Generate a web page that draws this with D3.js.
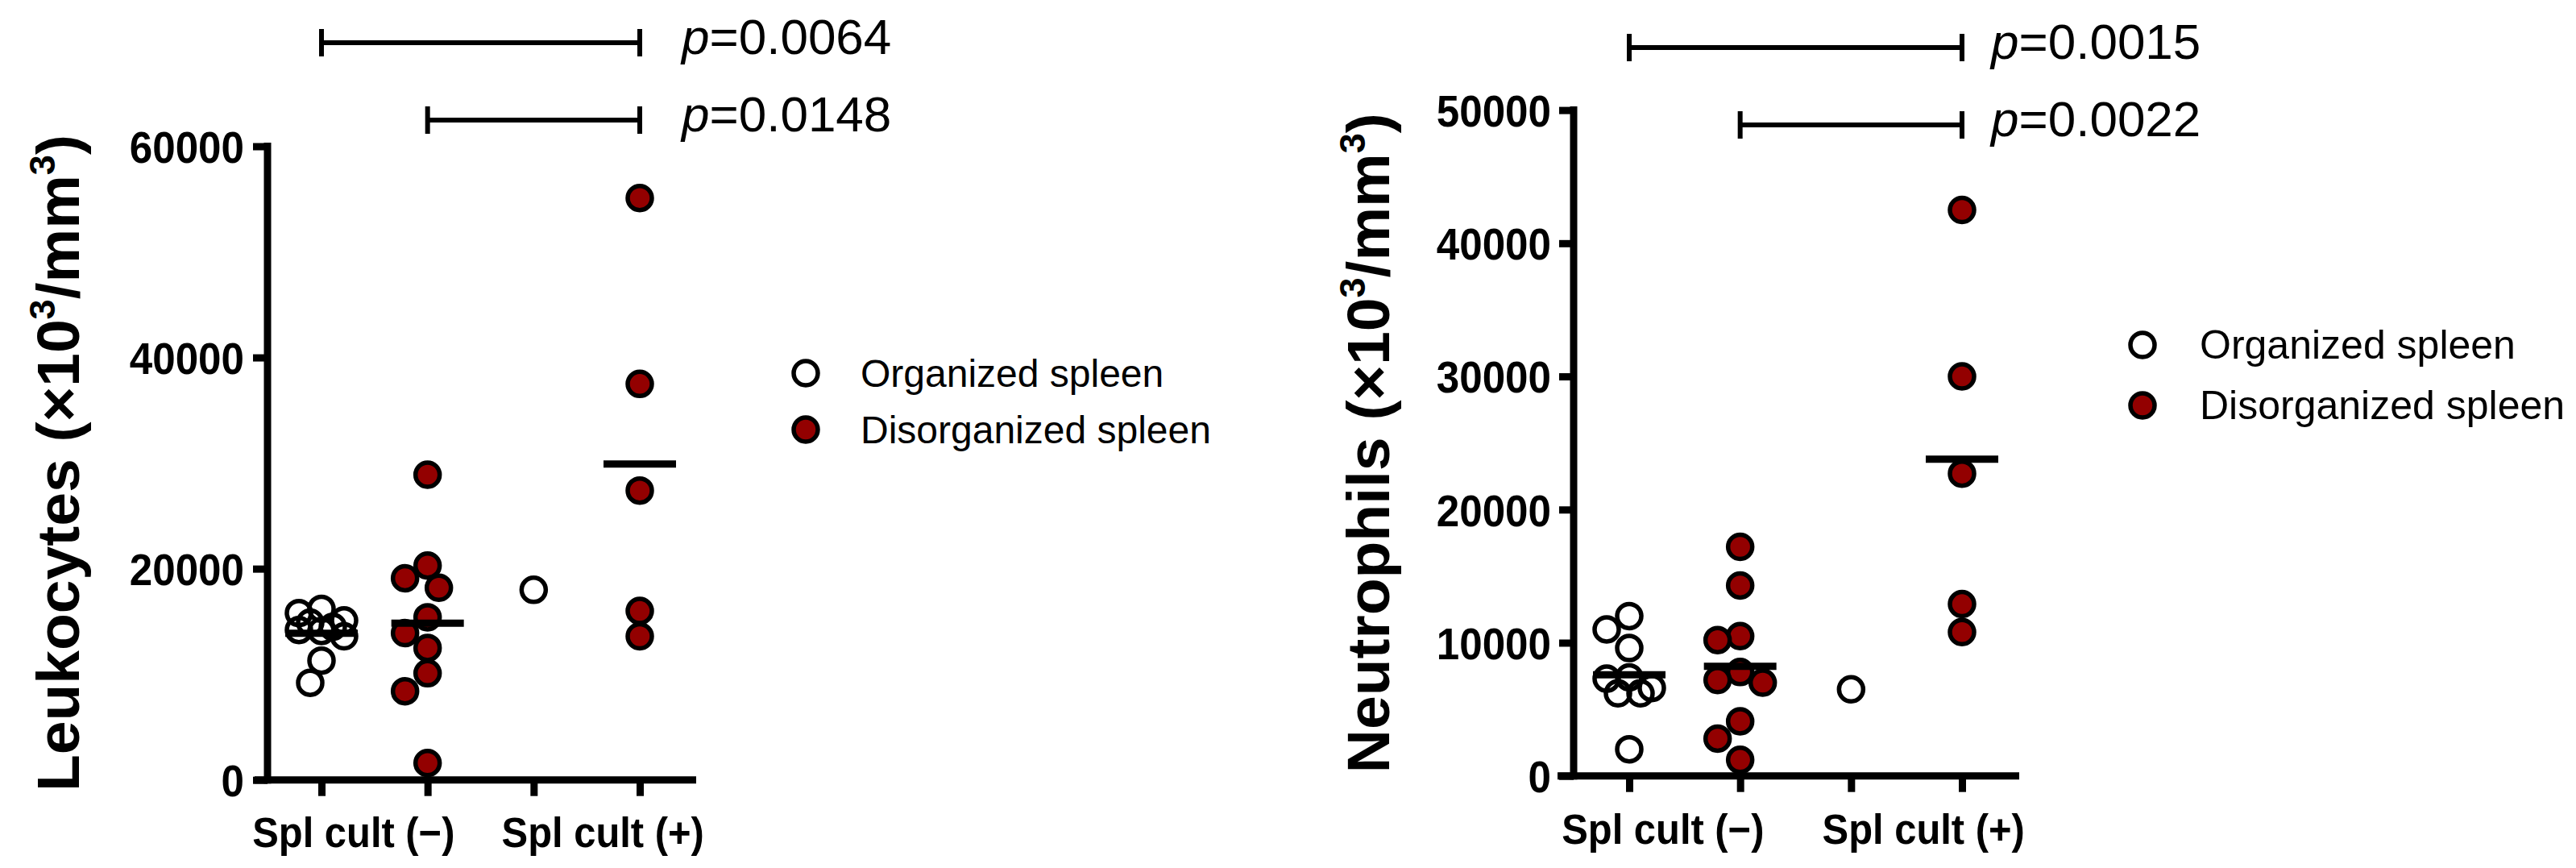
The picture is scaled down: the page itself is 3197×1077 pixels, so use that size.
<!DOCTYPE html>
<html><head><meta charset="utf-8">
<script src="https://cdn.jsdelivr.net/npm/d3@7"></script>
<style>
body{margin:0;background:#fff}
svg{display:block}
text{font-family:"Liberation Sans",Arial,Helvetica,sans-serif;fill:#000}
</style>
</head><body>
<svg id="chart" width="3197" height="1077"></svg>
<script>
// ---------- data ----------
const columnKeys = ["org-neg", "dis-neg", "org-pos", "dis-pos"];
const columnGroup = [0, 1, 0, 1];            // 0 = organized, 1 = disorganized
const cultureLabels = ["Spl cult (\u2212)", "Spl cult (+)"];
const groupNames = ["Organized spleen", "Disorganized spleen"];

const leukOrgNeg = [16200, 15800, 15100, 14900, 14500, 14200, 14100, 13600, 11300, 9200];
const leukDisNeg = [28900, 20300, 19100, 18200, 15400, 13900, 12500, 10100, 8400, 1600];
const leukOrgPos = [18000];
const leukDisPos = [55100, 37500, 27400, 16000, 13600];

const neutOrgNeg = [12000, 11000, 9600, 7400, 7300, 6600, 6200, 6200, 2000];
const neutDisNeg = [17200, 14300, 10500, 10200, 7800, 7200, 7000, 4100, 2800, 1200];
const neutOrgPos = [6500];
const neutDisPos = [42500, 30000, 22700, 12900, 10800];

const leukTicks = [0, 20000, 40000, 60000];
const neutTicks = [0, 10000, 20000, 30000, 40000, 50000];
const leukP = ["0.0064", "0.0148"];
const neutP = ["0.0015", "0.0022"];
const comparisons = [[0, 3], [1, 3]];

// ---------- styles ----------
const RED = "#930000";
const R = 15, SW = 5.5;
const AXW = 9;

const svg = d3.select("#chart");

function sqText(g, x, y, sx, anchor) {
  return g.append("text")
    .attr("transform", `translate(${x},${y}) scale(${sx},1)`)
    .attr("text-anchor", anchor || "start");
}

function swarm(vals, cx, y, step, minD, maxK) {
  const order = vals.map((v, i) => ({v, i})).sort((a, b) => b.v - a.v);
  const cands = [0];
  for (let k = 1; k <= maxK; k++) { cands.push(-k * step, k * step); }
  const placed = [];
  order.forEach(o => {
    const py = y(o.v);
    let best = null, bestScore = -1;
    for (const c of cands) {
      let md = Infinity;
      placed.forEach(p => { md = Math.min(md, Math.hypot(p.x - (cx + c), p.y - py)); });
      if (md >= minD) { best = c; bestScore = Infinity; break; }
      if (md > bestScore) { bestScore = md; best = c; }
    }
    placed.push({x: cx + best, y: py, v: o.v});
  });
  return placed;
}

function panel(cfg) {
  const g = svg.append("g");
  const y = d3.scaleLinear().domain([0, d3.max(cfg.ticks)]).range([cfg.yBottom, cfg.yTop]);
  const x = d3.scalePoint().domain(columnKeys).range([cfg.xFirst, cfg.xLast]);

  // y axis
  const ya = g.append("g").attr("transform", `translate(${cfg.axisX},0)`)
    .call(d3.axisLeft(y).tickValues(cfg.ticks).tickFormat(d3.format("d")).tickSize(18).tickSizeOuter(0).tickPadding(0));
  ya.select(".domain").remove();
  ya.selectAll(".tick line").attr("stroke", "#000").attr("stroke-width", AXW);
  ya.selectAll(".tick text").attr("x", 0)
    .attr("transform", `translate(${-cfg.tickLabelPad},0) scale(0.93,1)`)
    .attr("dy", "0.36em")
    .style("font-size", "55px").style("font-weight", "bold")
    .style("font-family", "'Liberation Sans',Arial,sans-serif").attr("fill", "#000");
  g.append("line").attr("x1", cfg.axisX).attr("x2", cfg.axisX)
    .attr("y1", cfg.yTop - AXW / 2).attr("y2", cfg.yBottom + AXW / 2)
    .attr("stroke", "#000").attr("stroke-width", AXW);

  // x axis
  const xa = g.append("g").attr("transform", `translate(0,${cfg.yBottom})`)
    .call(d3.axisBottom(x).tickSize(20).tickSizeOuter(0).tickFormat(""));
  xa.select(".domain").remove();
  xa.selectAll(".tick line").attr("stroke", "#000").attr("stroke-width", AXW);
  g.append("line").attr("x1", cfg.xAxisStart).attr("x2", cfg.xAxisEnd)
    .attr("y1", cfg.yBottom).attr("y2", cfg.yBottom)
    .attr("stroke", "#000").attr("stroke-width", AXW);

  // category labels
  cultureLabels.forEach((lab, i) => {
    const mid = (x(columnKeys[2 * i]) + x(columnKeys[2 * i + 1])) / 2 + cfg.labelShift[i];
    sqText(g, mid, cfg.labelY, 0.94, "middle").text(lab)
      .style("font-size", "52px").style("font-weight", "bold");
  });

  // y title
  const t = g.append("text")
    .attr("transform", `translate(${cfg.titleX},${(cfg.yTop + cfg.yBottom) / 2}) rotate(-90)`)
    .attr("text-anchor", "middle")
    .style("font-size", "75px").style("font-weight", "bold");
  t.append("tspan").text(cfg.title + " (\u00d710");
  t.append("tspan").text("3").style("font-size", "45px").attr("dy", "-30");
  t.append("tspan").text("/mm").attr("dy", "30");
  t.append("tspan").text("3").style("font-size", "45px").attr("dy", "-30");
  t.append("tspan").text(")").attr("dy", "30");

  // points
  cfg.series.forEach((vals, ci) => {
    const cx = x(columnKeys[ci]);
    const pts = swarm(vals, cx, y, 14, 28, 2);
    g.selectAll(null).data(pts).enter().append("circle")
      .attr("cx", d => d.x).attr("cy", d => d.y).attr("r", R)
      .attr("fill", columnGroup[ci] ? RED : "none")
      .attr("stroke", "#000").attr("stroke-width", SW);
    const m = d3.mean(vals);
    if (vals.length > 1) {
      g.append("line").attr("x1", cx - 45).attr("x2", cx + 45)
        .attr("y1", y(m)).attr("y2", y(m))
        .attr("stroke", "#000").attr("stroke-width", AXW);
    }
  });

  // significance bars
  comparisons.forEach((cmp, i) => {
    const x1 = x(columnKeys[cmp[0]]), x2 = x(columnKeys[cmp[1]]);
    const by = cfg.barY[i];
    const bg = g.append("g").attr("stroke", "#000").attr("stroke-width", 6);
    bg.append("line").attr("x1", x1).attr("x2", x2).attr("y1", by).attr("y2", by);
    bg.append("line").attr("x1", x1).attr("x2", x1).attr("y1", by - 17).attr("y2", by + 17);
    bg.append("line").attr("x1", x2).attr("x2", x2).attr("y1", by - 17).attr("y2", by + 17);
    const pt = sqText(g, x2 + cfg.pOffset, by + 14, 1.0, "start").style("font-size", "62px");
    pt.append("tspan").text("p").style("font-style", "italic");
    pt.append("tspan").text("=" + cfg.pvals[i]);
  });

  // legend
  groupNames.forEach((name, i) => {
    const ly = cfg.legendY[i];
    g.append("circle").attr("cx", cfg.legendX).attr("cy", ly).attr("r", R)
      .attr("fill", i ? RED : "none").attr("stroke", "#000").attr("stroke-width", SW);
    g.append("text").attr("x", cfg.legendTextX).attr("y", ly + 17)
      .style("font-size", cfg.legendFont + "px").text(name);
  });
}

panel({
  title: "Leukocytes", ticks: leukTicks, pvals: leukP,
  series: [leukOrgNeg, leukDisNeg, leukOrgPos, leukDisPos],
  axisX: 332, yTop: 181.5, yBottom: 967.7, xFirst: 399, xLast: 794,
  xAxisStart: 316, xAxisEnd: 864, tickLabelPad: 29,
  labelShift: [-26, 20], labelY: 1051, titleX: 98,
  barY: [53, 149], pOffset: 52,
  legendX: 1000, legendY: [463, 533], legendTextX: 1068, legendFont: 48
});
panel({
  title: "Neutrophils", ticks: neutTicks, pvals: neutP,
  series: [neutOrgNeg, neutDisNeg, neutOrgPos, neutDisPos],
  axisX: 1953, yTop: 136.6, yBottom: 962.7, xFirst: 2022, xLast: 2435,
  xAxisStart: 1933, xAxisEnd: 2506, tickLabelPad: 28,
  labelShift: [-27, 21], labelY: 1047, titleX: 1724,
  barY: [59, 155], pOffset: 36,
  legendX: 2659, legendY: [428, 503], legendTextX: 2730, legendFont: 50
});
</script>
</body></html>
